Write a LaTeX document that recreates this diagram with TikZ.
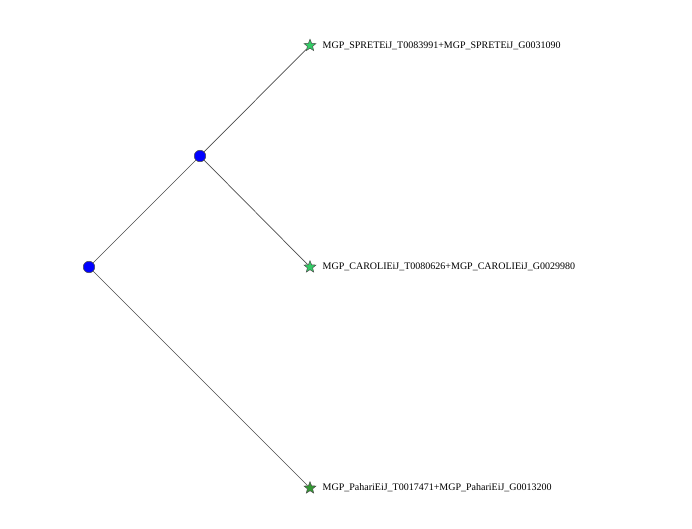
\documentclass[tikz,border=0pt]{standalone}
\usepackage{fontspec}
\setmainfont{Liberation Serif}
\usetikzlibrary{shapes.geometric}
\begin{document}
\begin{tikzpicture}[x=1pt,y=-1pt,
  inner/.style={circle,draw=black!70,fill=blue,line width=0.5pt,minimum size=11.5pt,inner sep=0pt},
  leafA/.style={star,star points=5,star point ratio=2.3,draw=black!70,line width=0.5pt,minimum size=12.5pt,inner sep=0pt},
  edge/.style={draw=black!70,line width=0.7pt},
  lab/.style={anchor=west,font=\fontsize{10}{12}\selectfont,inner sep=0pt}]
\useasboundingbox (0,0) rectangle (692,529);
\node[inner] (r) at (89,267) {};
\node[inner] (i) at (200,156) {};
\node[leafA,fill={rgb,255:red,51;green,204;blue,102}] (a) at (310,45.5) {};
\node[leafA,fill={rgb,255:red,51;green,204;blue,102}] (b) at (310,267) {};
\node[leafA,fill={rgb,255:red,51;green,153;blue,51}] (c) at (310,488) {};
\draw[edge] (r) -- (i);
\draw[edge] (i) -- (a);
\draw[edge] (i) -- (b);
\draw[edge] (r) -- (c);
\node[lab] (la) at (322.5,45.5) {MGP\_SPRETEiJ\_T0083991+MGP\_SPRETEiJ\_G0031090};
\node[lab] (lb) at (322.5,267) {MGP\_CAROLIEiJ\_T0080626+MGP\_CAROLIEiJ\_G0029980};
\node[lab] (lc) at (322.5,488) {MGP\_PahariEiJ\_T0017471+MGP\_PahariEiJ\_G0013200};
\end{tikzpicture}
\end{document}
